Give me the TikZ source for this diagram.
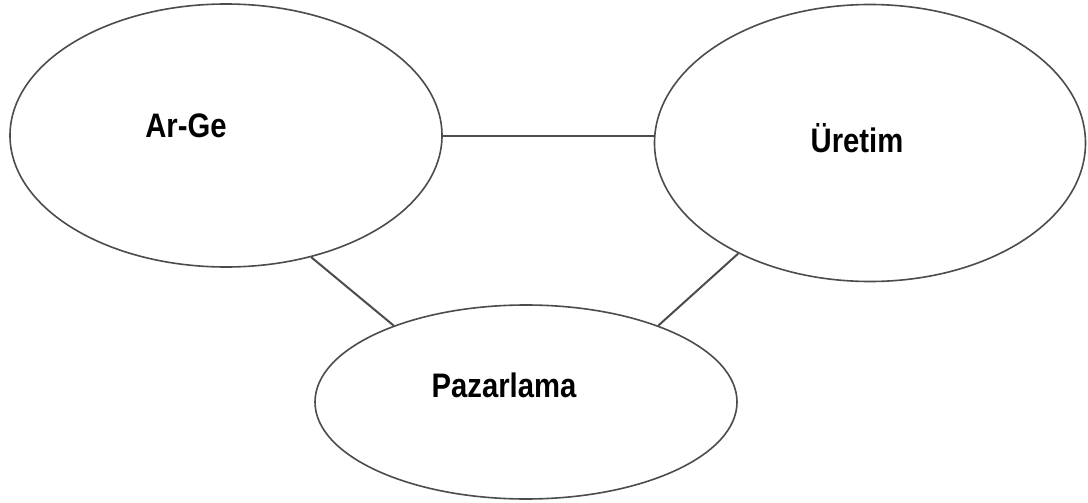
\documentclass[tikz,border=0pt]{standalone}
\usepackage{fontspec}
\setmainfont{Liberation Sans}
\newfontfamily\lblfont[FakeStretch=0.86]{Liberation Sans}
\usetikzlibrary{shapes.geometric}
\tikzset{
  oval/.style={draw=black!70, line width=1.6pt, shape=ellipse, inner sep=0pt},
  link/.style={draw=black!70, line width=2pt},
  lbl/.style={font=\lblfont\bfseries\fontsize{34}{36}\selectfont, anchor=base, inner sep=0pt, text=black}
}
\begin{document}
\begin{tikzpicture}[x=1pt,y=-1pt]
\useasboundingbox[fill=white] (0,0) rectangle (1088,503);
\node[oval, minimum width=432pt, minimum height=263pt] (a) at (226,135.5) {};
\node[oval, minimum width=431pt, minimum height=277pt] (u) at (870,143) {};
\node[oval, minimum width=422pt, minimum height=194pt] (p) at (526,402) {};
\draw[link] (a.east) -- (a.east -| u.west);
\draw[link] (a.305.5) -- (p.150.8);
\draw[link] (u.220) -- (p.30);
\node[lbl] (ta) at (186,138) {Ar-Ge};
\node[lbl] (tu) at (857,152) {Üretim};
\node[lbl] (tp) at (504,397) {Pazarlama};
\end{tikzpicture}
\end{document}
